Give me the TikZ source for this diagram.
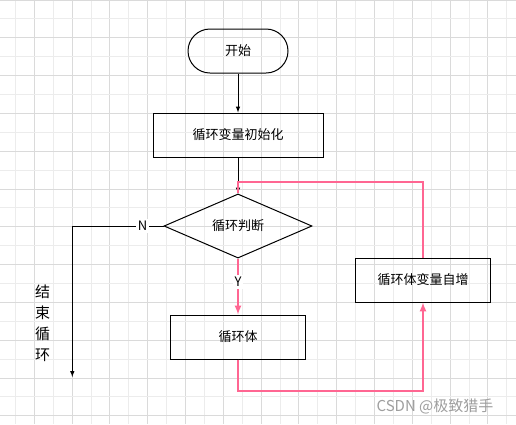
\documentclass[tikz,border=0pt]{standalone}
\usepackage{fontspec}
\setmainfont{Noto Sans CJK SC}
\usetikzlibrary{calc, shapes.geometric, arrows, positioning}
\definecolor{pinkline}{RGB}{255,102,146}
\definecolor{gridminor}{RGB}{236,236,236}
\definecolor{gridmajor}{RGB}{218,218,218}

\begin{document}
\begin{tikzpicture}[x=1pt, y=-1pt,
  every node/.style={font=\fontsize{13}{16}\selectfont},
  box/.style={draw, line width=1pt, minimum width=135pt, minimum height=44pt, inner sep=0pt},
  flow/.style={line width=1pt, ->},
  loopline/.style={draw=pinkline, line width=2pt}]
\tikzset{>=latex}

  % background and grid
  \fill[white] (0,0) rectangle (516,424);
  \useasboundingbox (0,0) rectangle (516,424);
  \foreach \k in {0,...,13} {
    \draw[gridminor, line width=1pt] ({15.4+37.8*\k},0) -- ++(0,424);
    \draw[gridmajor, line width=1pt] ({34.3+37.8*\k},0) -- ++(0,424);
  }
  \foreach \k in {0,...,11} {
    \draw[gridmajor, line width=1pt] (0,{37.8*\k}) -- ++(516,0);
    \draw[gridminor, line width=1pt] (0,{18.9+37.8*\k}) -- ++(516,0);
  }

  \node[draw, line width=1pt, rounded corners=22pt, minimum width=100pt, minimum height=44pt] (start) at (238,51) {开始};
  \node[box, minimum width=170pt] (init) at (238,135) {循环变量初始化};
  \node[draw, diamond, line width=1pt, minimum width=148pt, minimum height=57pt, inner sep=0pt] (judge) at (238,226) {循环判断};
  \node[box] (body) at (238,337) {循环体};
  \node[box] (incr) at (423,280) {循环体变量自增};
  \node[align=center, font=\fontsize{15}{21}\selectfont] (finish) at (42.7,323) {结\\束\\循\\环};

  \coordinate (out) at (72.3,377);
  \coordinate (join) at (238,181.5);
  \coordinate (low) at (238,391);

  \draw[flow] (start) -- (init);
  \draw[flow] (init) -- (judge);
  \draw[loopline] (incr.north) |- (join) -- (judge.north);
  \draw[flow] (judge.west) -- node[pos=0.23, fill=white, inner sep=2pt] (nlabel) {N} (judge.west -| out) -- (out);
  \draw[loopline, ->] (judge.south) -- node[pos=0.42, fill=white, inner sep=2pt] (ylabel) {Y} (body.north);
  \draw[loopline, ->] (body.south) -- (low) -| (incr.south);

  \node[text=black!38, font=\fontsize{15}{18}\selectfont] (mark) at (435,406) {CSDN @极致猎手};
\end{tikzpicture}
\end{document}
